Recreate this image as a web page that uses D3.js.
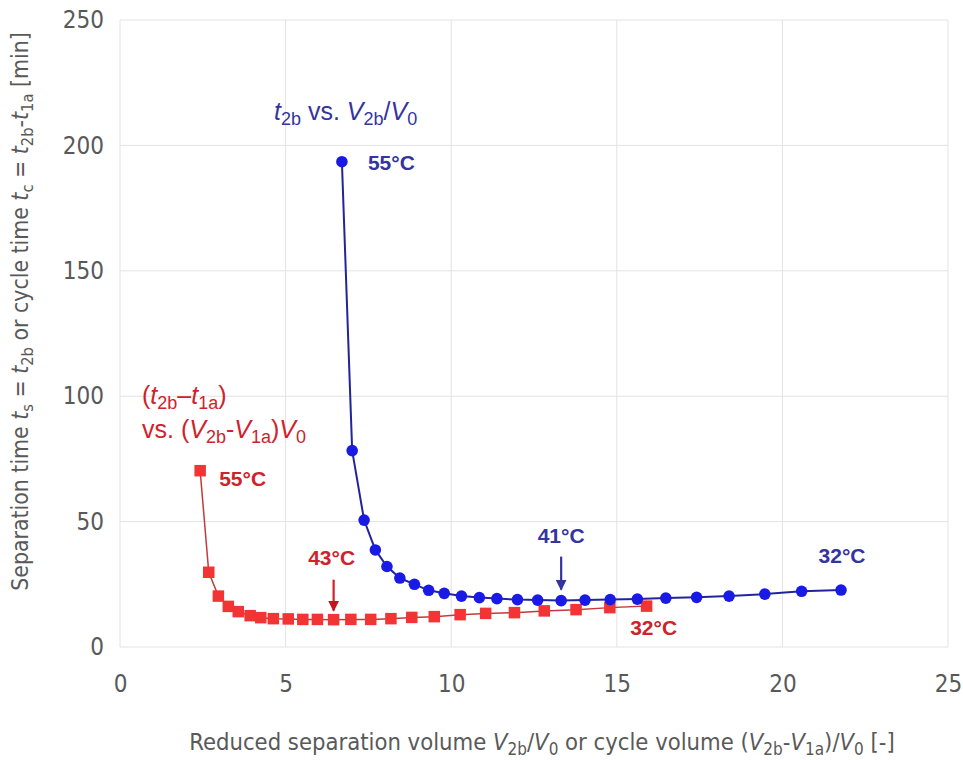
<!DOCTYPE html>
<html>
<head>
<meta charset="utf-8">
<script src="https://cdn.jsdelivr.net/npm/d3@7"></script>
<style>
  html, body { margin: 0; padding: 0; background: #ffffff; }
  svg { display: block; }
</style>
</head>
<body>
<svg id="chart" width="963" height="760"></svg>
<script>
// Separation time t2b vs. reduced separation volume V2b/V0 (blue circles)
const sepVolume = [6.70, 7.01, 7.37, 7.71, 8.06, 8.45, 8.89, 9.32, 9.79, 10.31, 10.85, 11.38,
                   12.00, 12.61, 13.32, 14.04, 14.80, 15.62, 16.48, 17.41, 18.39, 19.47, 20.58, 21.77];
const sepTime   = [193.5, 78.3, 50.6, 38.7, 32.1, 27.5, 25.0, 22.6, 21.4, 20.3, 19.7, 19.3,
                   18.9, 18.7, 18.5, 18.7, 18.9, 19.1, 19.5, 19.8, 20.3, 21.1, 22.2, 22.7];

// Cycle time (t2b - t1a) vs. cycle volume (V2b - V1a)/V0 (red squares)
const cycVolume = [2.42, 2.68, 2.97, 3.27, 3.57, 3.93, 4.25, 4.63, 5.08, 5.52, 5.96, 6.45,
                   6.97, 7.57, 8.18, 8.81, 9.49, 10.27, 11.04, 11.91, 12.81, 13.77, 14.79, 15.90];
const cycTime   = [70.3, 29.8, 20.3, 16.2, 14.1, 12.5, 11.7, 11.3, 11.2, 11.0, 11.0, 10.9,
                   11.0, 11.0, 11.3, 11.8, 12.1, 12.9, 13.4, 13.7, 14.4, 14.9, 15.7, 16.3];

// Axis ticks
const xTicks = [0, 5, 10, 15, 20, 25];
const yTicks = [0, 50, 100, 150, 200, 250];

// Temperature annotations: [point index, label]
const sepNotes = [[0, "55°C"], [14, "41°C"], [23, "32°C"]];
const cycNotes = [[0, "55°C"], [11, "43°C"], [23, "32°C"]];

const svg = d3.select("#chart");
const m = { left: 120, right: 948, top: 20, bottom: 647 };

const x = d3.scaleLinear().domain([0, 25]).range([m.left, m.right]);
const y = d3.scaleLinear().domain([0, 250]).range([m.bottom, m.top]);

const axisFont = "'Liberation Sans Narrow', 'Arial Narrow', 'DejaVu Sans Condensed', sans-serif";
const labelFont = "'Liberation Sans', Arial, sans-serif";
const gridColor = "#e3e3e3";
const axisText = "#595959";
const blueDot = "#1a1ae6";
const blueLine = "#24249a";
const blueText = "#34349f";
const redMark = "#f23434";
const redLine = "#c43a3a";
const redText = "#d0222a";

// Gridlines
svg.append("g")
  .selectAll("line")
  .data(xTicks)
  .join("line")
  .attr("x1", d => x(d)).attr("x2", d => x(d))
  .attr("y1", m.top).attr("y2", m.bottom)
  .attr("stroke", gridColor).attr("stroke-width", 1);
svg.append("g")
  .selectAll("line")
  .data(yTicks)
  .join("line")
  .attr("x1", m.left).attr("x2", m.right)
  .attr("y1", d => y(d)).attr("y2", d => y(d))
  .attr("stroke", gridColor).attr("stroke-width", 1);

// Axes (labels only; domain and ticks hidden)
const xAxis = svg.append("g")
  .attr("transform", `translate(0,${m.bottom})`)
  .call(d3.axisBottom(x).tickValues(xTicks).tickSize(0).tickPadding(28));
xAxis.select(".domain").remove();
xAxis.selectAll("text")
  .attr("font-family", axisFont).attr("font-size", 24).attr("fill", axisText);

const yAxis = svg.append("g")
  .attr("transform", `translate(${m.left},0)`)
  .call(d3.axisLeft(y).tickValues(yTicks).tickSize(0).tickPadding(16));
yAxis.select(".domain").remove();
yAxis.selectAll("text")
  .attr("font-family", axisFont).attr("font-size", 24).attr("fill", axisText);

// Rich text helper: parts are [text, italic?, subscript?]
function rich(g, parts, size, shift = 0.28) {
  const t = g.append("text").attr("font-size", size);
  let shifted = false;
  parts.forEach(([s, it, sub]) => {
    const ts = t.append("tspan").text(s);
    if (it) ts.attr("font-style", "italic");
    if (sub && !shifted) { ts.attr("dy", size * shift).attr("font-size", size * 0.72); shifted = true; }
    else if (sub) { ts.attr("font-size", size * 0.72); }
    else if (shifted) { ts.attr("dy", -size * shift); shifted = false; }
  });
  return t;
}

// Axis titles
const xTitle = svg.append("g").attr("font-family", axisFont).attr("fill", axisText);
rich(xTitle, [
  ["Reduced separation volume "], ["V", true], ["2b", false, true], ["/"], ["V", true], ["0", false, true],
  [" or cycle volume ("], ["V", true], ["2b", false, true], ["-"], ["V", true], ["1a", false, true],
  [")/"], ["V", true], ["0", false, true], [" [-]"]
], 23.6, 0.2).attr("x", (m.left + m.right) / 2 + 8).attr("y", 750).attr("text-anchor", "middle");

const yTitle = svg.append("g").attr("font-family", axisFont).attr("fill", axisText)
  .attr("transform", `translate(28,${(m.top + m.bottom) / 2 - 22}) rotate(-90)`);
rich(yTitle, [
  ["Separation time "], ["t", true], ["s", false, true], [" = "], ["t", true], ["2b", false, true],
  [" or cycle time "], ["t", true], ["c", false, true], [" = "], ["t", true], ["2b", false, true],
  ["-"], ["t", true], ["1a", false, true], [" [min]"]
], 22.8, 0.2).attr("x", 0).attr("y", 0).attr("text-anchor", "middle");

// Series data
const sepData = sepVolume.map((v, i) => ({ x: v, y: sepTime[i] }));
const cycData = cycVolume.map((v, i) => ({ x: v, y: cycTime[i] }));
const line = d3.line().x(d => x(d.x)).y(d => y(d.y));

// Cycle series (red squares)
svg.append("path").datum(cycData)
  .attr("d", line).attr("fill", "none").attr("stroke", redLine).attr("stroke-width", 1.5);
const sq = 11.5;
svg.append("g").selectAll("rect").data(cycData).join("rect")
  .attr("x", d => x(d.x) - sq / 2).attr("y", d => y(d.y) - sq / 2)
  .attr("width", sq).attr("height", sq).attr("fill", redMark);

// Separation series (blue circles)
svg.append("path").datum(sepData)
  .attr("d", line).attr("fill", "none").attr("stroke", blueLine).attr("stroke-width", 2);
svg.append("g").selectAll("circle").data(sepData).join("circle")
  .attr("cx", d => x(d.x)).attr("cy", d => y(d.y)).attr("r", 5.8).attr("fill", blueDot);

// Arrow markers
const defs = svg.append("defs");
[["arrowBlue", blueText], ["arrowRed", "#c0161e"]].forEach(([id, c]) => {
  defs.append("marker").attr("id", id)
    .attr("viewBox", "0 0 10 10").attr("refX", 9).attr("refY", 5)
    .attr("markerWidth", 5).attr("markerHeight", 5).attr("orient", "auto")
    .attr("markerUnits", "strokeWidth")
    .append("path").attr("d", "M0,0 L10,5 L0,10 z").attr("fill", c);
});

// Temperature labels
function annotate(data, notes, color, arrowId, place) {
  notes.forEach(([i, label], k) => {
    const px = x(data[i].x), py = y(data[i].y);
    const p = place[k];
    svg.append("text")
      .attr("x", px + p.dx).attr("y", py + p.dy)
      .attr("text-anchor", p.anchor)
      .attr("font-family", labelFont).attr("font-weight", "bold")
      .attr("font-size", 21).attr("fill", color)
      .text(label);
    if (p.arrow) {
      svg.append("line")
        .attr("x1", px).attr("x2", px)
        .attr("y1", py + p.arrow[0]).attr("y2", py + p.arrow[1])
        .attr("stroke", color).attr("stroke-width", 2.2)
        .attr("marker-end", `url(#${arrowId})`);
    }
  });
}
annotate(sepData, sepNotes, blueText, "arrowBlue", [
  { dx: 26, dy: 8, anchor: "start" },
  { dx: 0, dy: -58, anchor: "middle", arrow: [-44, -11] },
  { dx: 1, dy: -27, anchor: "middle" }
]);
annotate(cycData, cycNotes, redText, "arrowRed", [
  { dx: 19, dy: 15, anchor: "start" },
  { dx: -2, dy: -55, anchor: "middle", arrow: [-40, -9] },
  { dx: 7, dy: 29, anchor: "middle" }
]);

// Series captions
const blueCap = svg.append("g").attr("font-family", labelFont).attr("fill", blueText);
rich(blueCap, [["t", true], ["2b", false, true], [" vs. "], ["V", true], ["2b", false, true],
  ["/"], ["V", true], ["0", false, true]], 25, 0.2).attr("x", 274).attr("y", 120);

const redCap = svg.append("g").attr("font-family", labelFont).attr("fill", redText);
rich(redCap, [["("], ["t", true], ["2b", false, true], ["–"], ["t", true], ["1a", false, true], [")"]], 25, 0.18)
  .attr("x", 142).attr("y", 404);
rich(redCap, [["vs. ("], ["V", true], ["2b", false, true], ["-"], ["V", true], ["1a", false, true],
  [")"], ["V", true], ["0", false, true]], 25, 0.2)
  .attr("x", 142).attr("y", 438);
</script>
</body>
</html>
